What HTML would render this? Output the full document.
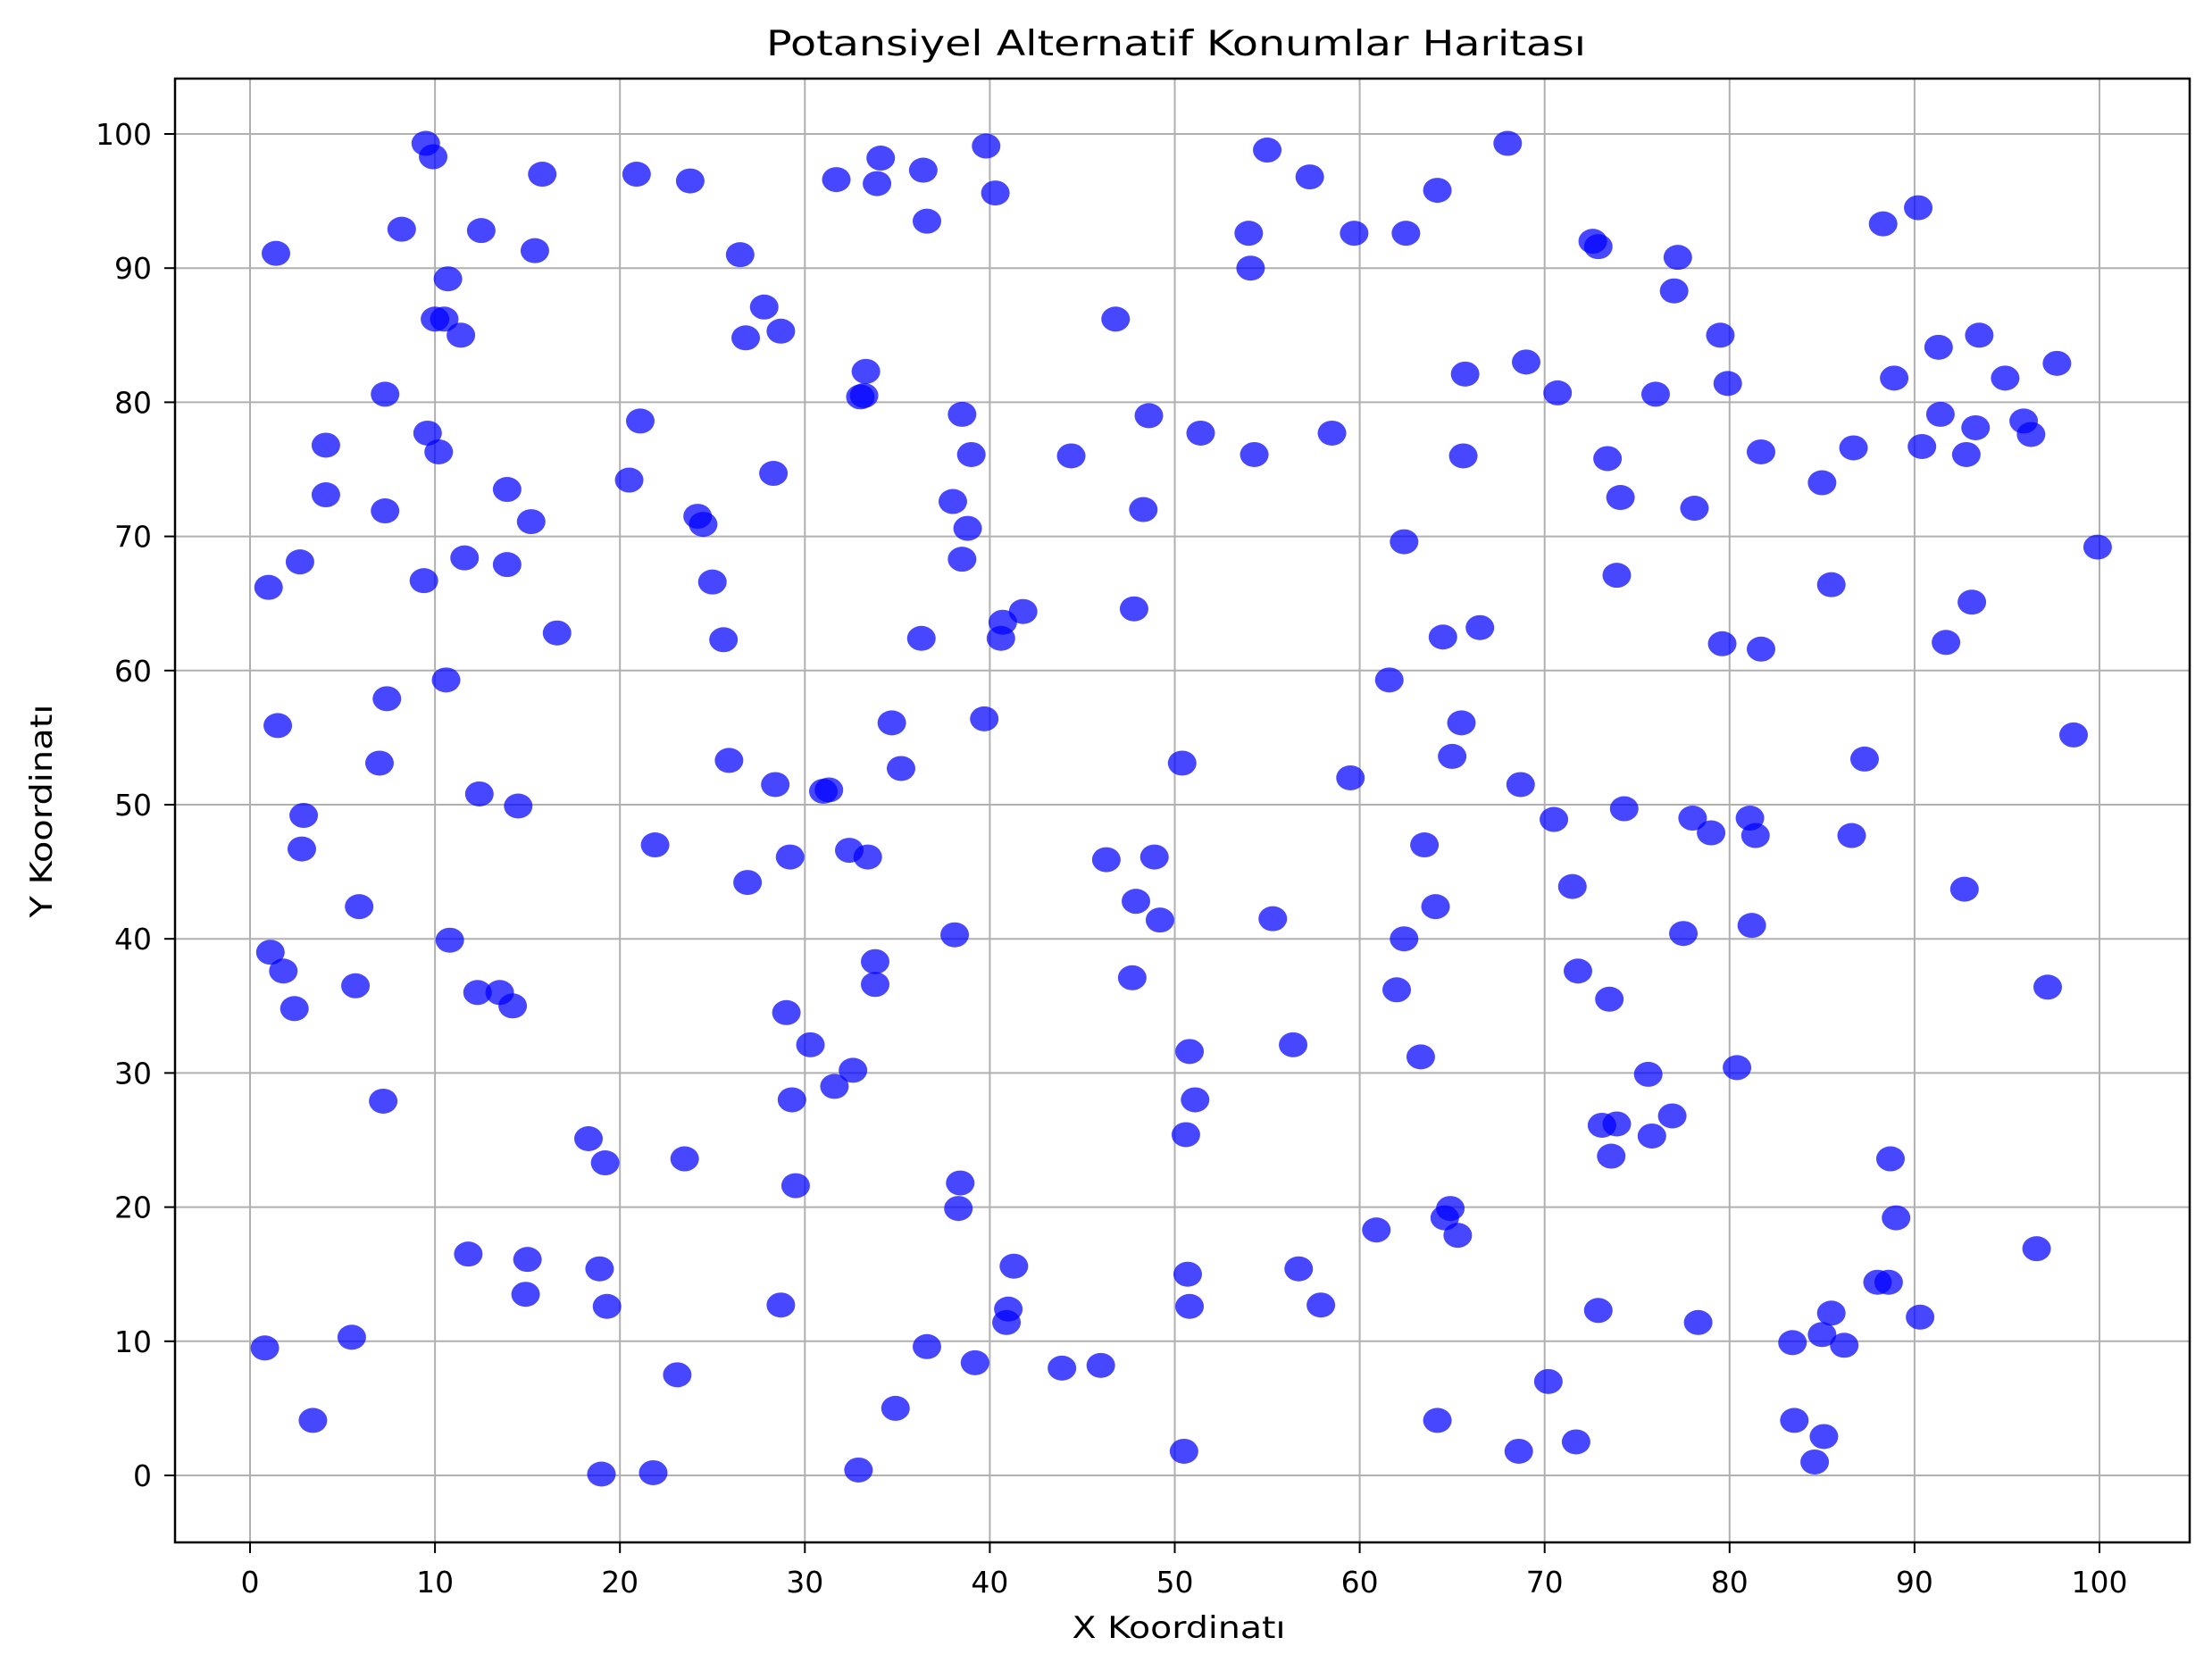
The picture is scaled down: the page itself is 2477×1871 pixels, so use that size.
<!DOCTYPE html>
<html><head><meta charset="utf-8"><style>
html,body{margin:0;padding:0;background:#fff}
svg text{font-family:"DejaVu Sans","Liberation Sans",sans-serif;fill:#000}
</style></head><body>
<svg id="chart" width="2477" height="1866" viewBox="0 0 2477 1866" xmlns="http://www.w3.org/2000/svg">
<rect x="0" y="0" width="2477" height="1866" fill="#fff"/>
<text x="1317" y="62" font-size="39" text-anchor="middle" textLength="918" lengthAdjust="spacingAndGlyphs">Potansiyel Alternatif Konumlar Haritası</text>
<text x="1320" y="1834" font-size="34" text-anchor="middle" textLength="239" lengthAdjust="spacingAndGlyphs">X Koordinatı</text>
<text x="0" y="0" font-size="34" text-anchor="middle" textLength="239" lengthAdjust="spacingAndGlyphs" transform="translate(58,908) rotate(-90)">Y Koordinatı</text>
<g id="grid"></g>
<g id="points"></g>
<g id="ticks"></g>
<rect x="196" y="88" width="2256" height="1639" fill="none" stroke="#000" stroke-width="2.5"/>
</svg>
<script>
const xTicks = [0,10,20,30,40,50,60,70,80,90,100];
const yTicks = [0,10,20,30,40,50,60,70,80,90,100];
const xVals = [1.0,1.4,1.5,1.1,1.8,2.4,2.9,2.8,2.7,0.8,3.4,4.1,4.1,5.5,5.7,5.9,7.0,7.2,7.3,7.4,7.3,8.2,9.5,9.9,9.4,9.6,10.0,10.2,10.5,10.7,10.6,10.8,11.4,11.6,11.8,12.3,12.4,12.5,13.5,13.9,13.9,14.2,14.5,14.9,15.0,15.2,15.4,15.8,16.6,18.3,18.9,19.2,19.3,19.0,20.5,20.9,21.1,21.8,21.9,23.1,23.5,23.8,24.2,24.5,25.0,25.6,25.9,26.5,26.8,26.9,27.8,28.4,28.3,28.7,28.7,29.0,29.2,29.3,29.5,30.3,31.0,31.3,31.6,31.7,32.4,32.6,32.9,33.0,33.3,33.2,33.4,33.8,33.8,33.9,34.1,34.7,34.9,35.2,36.3,36.4,36.6,36.6,38.0,38.1,38.3,38.4,38.5,38.5,38.8,39.0,39.2,39.7,39.8,40.3,40.6,40.7,40.9,41.0,41.3,41.8,43.9,44.4,46.0,46.3,46.8,47.7,47.8,47.9,48.3,48.6,48.9,49.2,50.4,50.5,50.6,50.7,50.8,50.8,51.1,51.4,54.0,54.1,54.3,55.0,55.3,56.4,56.7,57.3,57.9,58.5,59.5,59.7,60.9,61.6,62.0,62.4,62.4,62.5,63.3,63.5,64.1,64.2,64.2,64.5,64.6,64.9,65.0,65.3,65.5,65.6,65.7,66.5,68.0,68.6,68.7,69.0,70.2,70.5,70.7,71.5,71.7,71.8,72.6,72.9,72.9,73.1,73.4,73.5,73.6,73.9,73.9,74.1,74.3,75.6,75.8,76.0,76.9,77.0,77.2,77.5,78.0,78.1,78.3,79.0,79.5,79.6,79.9,80.4,81.1,81.2,81.4,81.7,81.7,83.4,83.5,85.0,85.0,85.1,85.5,85.5,86.2,86.6,86.7,87.3,88.0,88.3,88.6,88.7,88.9,89.0,90.2,90.3,90.4,91.3,91.4,91.7,92.7,92.8,93.1,93.3,93.5,94.9,95.9,96.3,96.6,97.2,97.7,98.6,99.9,84.6];
const yVals = [66.2,91.1,55.9,39,37.6,34.8,49.2,46.7,68.1,9.5,4.1,76.8,73.1,10.3,36.5,42.4,53.1,27.9,71.9,57.9,80.6,92.9,99.3,98.3,66.7,77.7,86.2,76.3,86.2,89.2,59.3,39.9,85.0,68.4,16.5,36.0,50.8,92.8,36.0,73.5,67.9,35.0,49.9,13.5,16.1,71.1,91.3,97.0,62.8,25.1,15.4,23.3,12.6,0.1,74.2,97.0,78.6,0.2,47.0,7.5,23.6,96.5,71.5,70.9,66.6,62.3,53.3,91.0,84.8,44.2,87.1,51.5,74.7,85.3,12.7,34.5,46.1,28.0,21.6,32.1,51.0,51.1,29.0,96.6,46.6,30.2,0.4,80.4,82.3,80.5,46.1,38.3,36.6,96.3,98.2,56.1,5.0,52.7,62.4,97.3,93.5,9.6,72.6,40.3,19.9,21.8,79.1,68.3,70.6,76.1,8.4,56.4,99.1,95.6,62.4,63.6,11.4,12.4,15.6,64.4,8.0,76.0,8.2,45.9,86.2,37.1,64.6,42.8,72.0,79.0,46.1,41.4,53.1,1.8,25.4,15.0,12.6,31.6,28.0,77.7,92.6,90.0,76.1,98.8,41.5,32.1,15.4,96.8,12.7,77.7,52.0,92.6,18.3,59.3,36.2,69.6,40.0,92.6,31.2,47.0,42.4,95.8,4.1,62.5,19.2,19.9,53.6,17.9,56.1,76.0,82.1,63.2,99.3,1.8,51.5,83.0,7.0,48.9,80.7,43.9,2.5,37.6,92.0,91.6,12.3,26.1,75.8,35.5,23.8,67.1,26.2,72.9,49.7,29.9,25.3,80.6,26.8,88.3,90.8,40.4,49.0,72.1,11.4,47.9,85.0,62.0,81.4,30.4,49.0,41.0,47.7,61.6,76.3,9.9,4.1,74.0,10.5,2.9,66.4,12.1,9.7,47.7,76.6,53.4,14.4,93.3,14.4,23.6,81.8,19.2,94.5,11.8,76.7,84.1,79.1,62.1,43.7,76.1,65.1,78.1,85.0,81.8,78.6,77.6,16.9,36.4,82.9,55.2,69.2,1.0];

const NS = 'http://www.w3.org/2000/svg';
const X0 = 280, X1 = 2351, Y0 = 1652, Y1 = 150;
function sx(v){ return X0 + (X1 - X0) * v / 100; }
function sy(v){ return Y0 - (Y0 - Y1) * v / 100; }
const grid = document.getElementById('grid');
const ticks = document.getElementById('ticks');
const pts = document.getElementById('points');
function mk(tag, attrs){ const e = document.createElementNS(NS, tag); for (const k in attrs) e.setAttribute(k, attrs[k]); return e; }

xTicks.forEach(t => {
  const x = sx(t);
  const g = mk('line', {x1:x, x2:x, y1:88, y2:1727, stroke:'#b0b0b0', 'stroke-width':2});
  
  
  grid.appendChild(g);
  const tk = mk('line', {x1:x, x2:x, y1:1727, y2:1739, stroke:'#000', 'stroke-width':2});
  
  
  ticks.appendChild(tk);
  const lb = mk('text', {x:x, y:1783, 'font-size':33, 'text-anchor':'middle'});
  lb.textContent = t;
  
  
  ticks.appendChild(lb);
});
yTicks.forEach(t => {
  const y = sy(t);
  const g = mk('line', {x1:196, x2:2452, y1:y, y2:y, stroke:'#b0b0b0', 'stroke-width':2});
  
  
  grid.appendChild(g);
  const tk = mk('line', {x1:184, x2:196, y1:y, y2:y, stroke:'#000', 'stroke-width':2});
  
  
  ticks.appendChild(tk);
  const lb = mk('text', {x:170, y:y + 12, 'font-size':33, 'text-anchor':'end'});
  lb.textContent = t;
  
  
  ticks.appendChild(lb);
});
xVals.forEach((xv, i) => {
  const c = mk('ellipse', {cx:sx(xv), cy:sy(yVals[i]), rx:16, ry:14, fill:'#0000ff', 'fill-opacity':0.72});
  
  
  pts.appendChild(c);
});
</script>
</body></html>
